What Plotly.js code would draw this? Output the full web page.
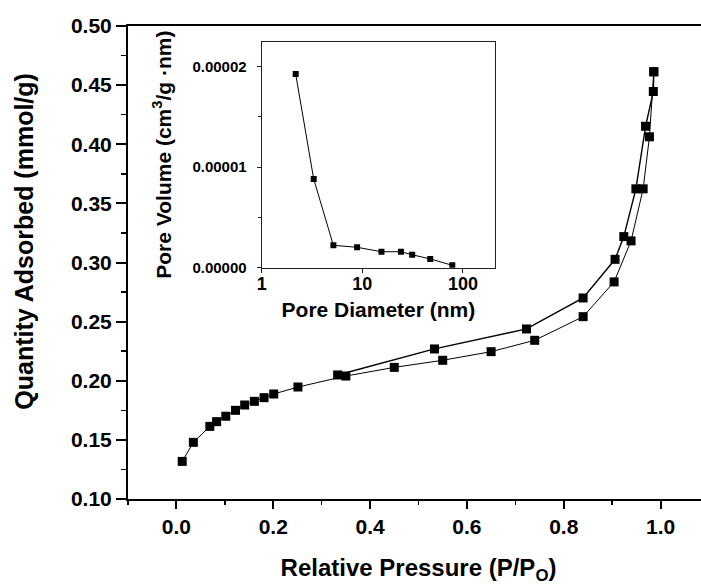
<!DOCTYPE html>
<html>
<head>
<meta charset="utf-8">
<script src="https://cdn.plot.ly/plotly-3.0.1.min.js"></script>
<style>
html, body { margin: 0; padding: 0; overflow: hidden; background: #fff; }
#chart { width: 710px; height: 585px; }
</style>
</head>
<body>
<div id="chart"></div>
<script>
// Adsorption branch (lower)
const adsP = [0.012, 0.035, 0.069, 0.083, 0.102, 0.122, 0.141, 0.161, 0.181, 0.201, 0.251, 0.350, 0.450, 0.550, 0.650, 0.740, 0.840, 0.904, 0.939, 0.964, 0.977, 0.986];
const adsQ = [0.1318, 0.1479, 0.1614, 0.1654, 0.1700, 0.1750, 0.1795, 0.1826, 0.1857, 0.1888, 0.1947, 0.2040, 0.2113, 0.2173, 0.2246, 0.2342, 0.2542, 0.2836, 0.3183, 0.3623, 0.4063, 0.4613];
// Desorption branch (upper)
const desP = [0.986, 0.985, 0.969, 0.949, 0.924, 0.906, 0.840, 0.723, 0.533, 0.333];
const desQ = [0.4613, 0.4446, 0.4152, 0.3623, 0.3219, 0.3027, 0.2700, 0.2438, 0.2269, 0.2049];
// Inset: pore size distribution
const poreD = [2.18, 3.29, 5.16, 8.88, 15.5, 24.2, 31.3, 47.3, 78.3];
const poreV = [1.927e-5, 0.883e-5, 0.223e-5, 0.203e-5, 0.159e-5, 0.159e-5, 0.129e-5, 0.087e-5, 0.024e-5];
// Tick labels
const mainYTicks = [0.10, 0.15, 0.20, 0.25, 0.30, 0.35, 0.40, 0.45, 0.50];
const insetYTickVals = [0, 1e-5, 2e-5];
const insetYTickText = ["0.00000", "0.00001", "0.00002"];
const insetXTickVals = [1, 10, 100];
const insetXTickText = ["1", "10", "100"];

const FONT = "Liberation Sans, Arial, sans-serif";

const traces = [
  {
    x: adsP, y: adsQ, type: 'scatter', mode: 'lines+markers',
    line: {color: '#000', width: 1},
    marker: {symbol: 'square', size: 9, color: '#000'},
    xaxis: 'x', yaxis: 'y', showlegend: false
  },
  {
    x: desP, y: desQ, type: 'scatter', mode: 'lines+markers',
    line: {color: '#000', width: 1.4},
    marker: {symbol: 'square', size: 9, color: '#000'},
    xaxis: 'x', yaxis: 'y', showlegend: false
  },
  {
    x: poreD, y: poreV, type: 'scatter', mode: 'lines+markers',
    line: {color: '#000', width: 1},
    marker: {symbol: 'square', size: 6, color: '#000'},
    xaxis: 'x2', yaxis: 'y2', showlegend: false
  }
];

const layout = {
  width: 710, height: 585,
  margin: {l: 128, r: 1, t: 26, b: 86},
  paper_bgcolor: '#fff', plot_bgcolor: '#fff',
  font: {family: FONT, color: '#000'},
  showlegend: false,
  xaxis: {
    range: [-0.1, 1.1], tick0: 0, dtick: 0.2, tickformat: '.1f',
    showgrid: false, zeroline: false,
    showline: true, linewidth: 2, linecolor: '#000', mirror: true,
    ticks: 'outside', ticklen: 8, tickwidth: 2, tickcolor: '#000',
    minor: {dtick: 0.1, tick0: 0, ticks: 'outside', ticklen: 4, tickwidth: 1.5, tickcolor: '#000'},
    tickfont: {family: FONT, size: 21, weight: 'bold', color: '#000'},
    title: {text: 'Relative Pressure (P/P<sub>O</sub>)', font: {family: FONT, size: 24, weight: 'bold', color: '#000'}, standoff: 22}
  },
  yaxis: {
    range: [0.10, 0.50], tickvals: mainYTicks, tickformat: '.2f',
    showgrid: false, zeroline: false,
    showline: true, linewidth: 2, linecolor: '#000', mirror: true,
    ticks: 'outside', ticklen: 10, tickwidth: 2, tickcolor: '#000',
    minor: {dtick: 0.025, tick0: 0.1, ticks: 'outside', ticklen: 5, tickwidth: 1.5, tickcolor: '#000'},
    tickfont: {family: FONT, size: 21, weight: 'bold', color: '#000'}
  },
  xaxis2: {
    type: 'log', range: [0, 2.32], domain: [0.230, 0.632], anchor: 'y2',
    tickvals: insetXTickVals, ticktext: insetXTickText,
    showgrid: false, zeroline: false,
    showline: true, linewidth: 1, linecolor: '#222', mirror: true,
    ticks: 'outside', ticklen: 4, tickwidth: 1, tickcolor: '#222',
    ticklabelstandoff: -4,
    tickfont: {family: FONT, size: 18, weight: 'bold', color: '#000'},
    title: {text: 'Pore Diameter (nm)', font: {family: FONT, size: 21, weight: 'bold', color: '#000'}, standoff: 8}
  },
  yaxis2: {
    range: [0, 2.25e-5], domain: [0.489, 0.967], anchor: 'x2',
    tickvals: insetYTickVals, ticktext: insetYTickText,
    showgrid: false, zeroline: false,
    showline: true, linewidth: 1, linecolor: '#222', mirror: true,
    ticks: 'outside', ticklen: 4, tickwidth: 1, tickcolor: '#222',
    ticklabelstandoff: 7,
    minor: {dtick: 0.5e-5, tick0: 0, ticks: 'outside', ticklen: 3, tickwidth: 1, tickcolor: '#222'},
    tickfont: {family: FONT, size: 15, weight: 'bold', color: '#000'},
    title: {text: 'Pore Volume (cm<sup>3</sup>/g ·nm)', font: {family: FONT, size: 21, weight: 'bold', color: '#000'}, standoff: 15}
  },
  annotations: [
    {
      text: 'Quantity Adsorbed (mmol/g)', textangle: -90,
      xref: 'paper', yref: 'paper', x: 0, y: 0.544, xshift: -104,
      xanchor: 'center', yanchor: 'middle', showarrow: false,
      font: {family: FONT, size: 25, weight: 'bold', color: '#000'}
    }
  ]
};

Plotly.newPlot('chart', traces, layout, {displayModeBar: false, staticPlot: true});
</script>
</body>
</html>
